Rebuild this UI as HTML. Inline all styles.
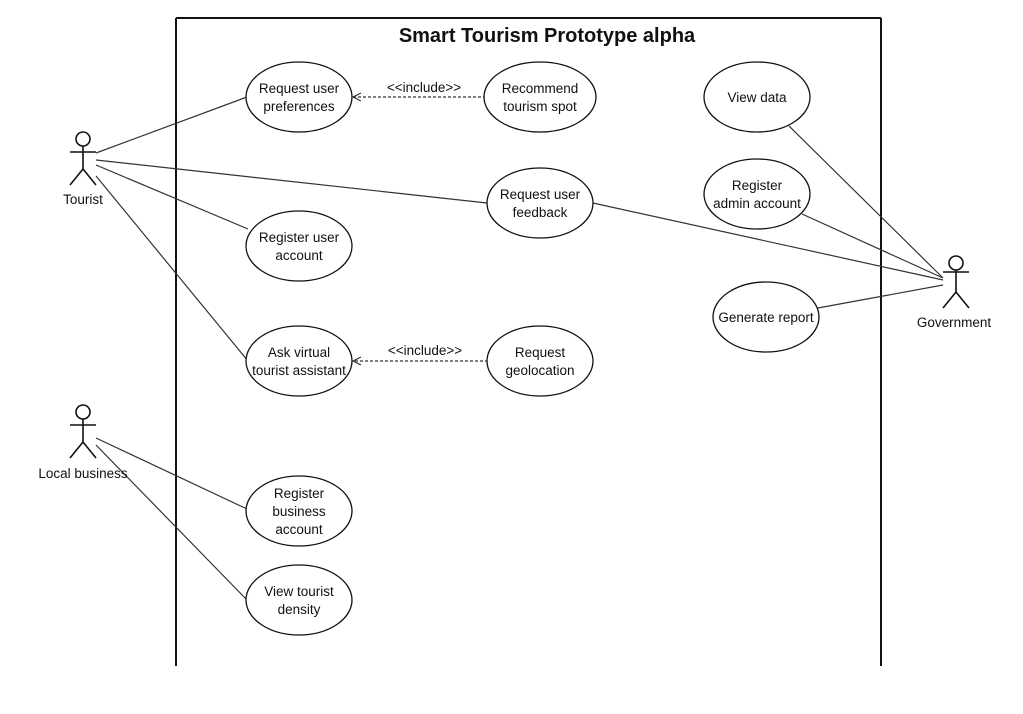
<!DOCTYPE html>
<html><head><meta charset="utf-8"><style>
html,body{margin:0;padding:0;background:#fff;}
svg{display:block;}
text{font-family:"Liberation Sans",sans-serif;font-size:13.5px;fill:#111;}
</style></head><body>
<svg width="1023" height="714" viewBox="0 0 1023 714" xmlns="http://www.w3.org/2000/svg">
<g stroke="#111" fill="none">
<line x1="176" y1="18" x2="881" y2="18" stroke-width="2"/>
<line x1="176" y1="18" x2="176" y2="666" stroke-width="2"/>
<line x1="881" y1="18" x2="881" y2="666" stroke-width="2"/>
</g>
<text x="547" y="42" text-anchor="middle" style="font-size:20px;font-weight:bold">Smart Tourism Prototype alpha</text>
<g stroke="#333" stroke-width="1.2" fill="none">
<line x1="96" y1="153" x2="247" y2="97"/>
<line x1="96" y1="160" x2="487" y2="203"/>
<line x1="96" y1="165" x2="248" y2="229"/>
<line x1="96" y1="176" x2="248" y2="361"/>
<line x1="943" y1="278" x2="789" y2="126"/>
<line x1="943" y1="278" x2="802" y2="214"/>
<line x1="943" y1="280" x2="593" y2="203"/>
<line x1="943" y1="285" x2="818" y2="308"/>
<line x1="96" y1="438" x2="247" y2="509"/>
<line x1="96" y1="445" x2="247" y2="600"/>
<line x1="486" y1="97" x2="353" y2="97" stroke-dasharray="3,2"/>
<polyline points="361,93 353,97 361,101"/>
<line x1="488" y1="361" x2="353" y2="361" stroke-dasharray="3,2"/>
<polyline points="361,357 353,361 361,365"/>
</g>
<g stroke="#111" stroke-width="1.3" fill="#fff">
<ellipse cx="299" cy="97" rx="53" ry="35"/>
<ellipse cx="540" cy="97" rx="56" ry="35"/>
<ellipse cx="757" cy="97" rx="53" ry="35"/>
<ellipse cx="540" cy="203" rx="53" ry="35"/>
<ellipse cx="757" cy="194" rx="53" ry="35"/>
<ellipse cx="299" cy="246" rx="53" ry="35"/>
<ellipse cx="766" cy="317" rx="53" ry="35"/>
<ellipse cx="299" cy="361" rx="53" ry="35"/>
<ellipse cx="540" cy="361" rx="53" ry="35"/>
<ellipse cx="299" cy="511" rx="53" ry="35"/>
<ellipse cx="299" cy="600" rx="53" ry="35"/>
</g>
<g text-anchor="middle">
<text x="299" y="93">Request user</text><text x="299" y="111">preferences</text>
<text x="540" y="93">Recommend</text><text x="540" y="111">tourism spot</text>
<text x="757" y="102">View data</text>
<text x="540" y="199">Request user</text><text x="540" y="217">feedback</text>
<text x="757" y="190">Register</text><text x="757" y="208">admin account</text>
<text x="299" y="242">Register user</text><text x="299" y="260">account</text>
<text x="766" y="322">Generate report</text>
<text x="299" y="357">Ask virtual</text><text x="299" y="375">tourist assistant</text>
<text x="540" y="357">Request</text><text x="540" y="375">geolocation</text>
<text x="299" y="498">Register</text><text x="299" y="516">business</text><text x="299" y="534">account</text>
<text x="299" y="596">View tourist</text><text x="299" y="614">density</text>
<text x="424" y="92">&lt;&lt;include&gt;&gt;</text>
<text x="425" y="355">&lt;&lt;include&gt;&gt;</text>
<text x="83" y="204">Tourist</text>
<text x="83" y="478">Local business</text>
<text x="954" y="327">Government</text>
</g>
<g stroke="#111" stroke-width="1.6" fill="#fff">
<circle cx="83" cy="139" r="7"/>
<line x1="83" y1="146" x2="83" y2="169"/><line x1="70" y1="152" x2="96" y2="152"/>
<polyline fill="none" points="70,185 83,169 96,185"/>
<circle cx="83" cy="412" r="7"/>
<line x1="83" y1="419" x2="83" y2="442"/><line x1="70" y1="425" x2="96" y2="425"/>
<polyline fill="none" points="70,458 83,442 96,458"/>
<circle cx="956" cy="263" r="7"/>
<line x1="956" y1="270" x2="956" y2="292"/><line x1="943" y1="272" x2="969" y2="272"/>
<polyline fill="none" points="943,308 956,292 969,308"/>
</g>
</svg>
</body></html>
